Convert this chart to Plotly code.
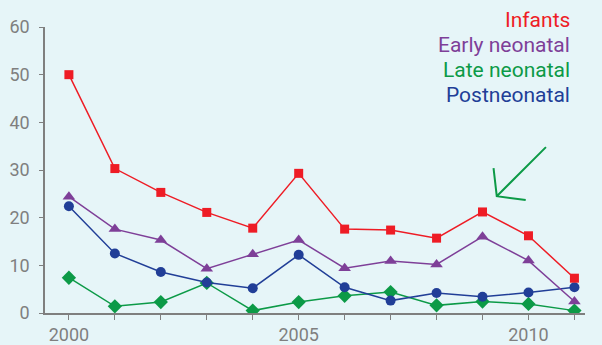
import plotly.graph_objects as go

years = list(range(2000, 2012))
infants = [50.0, 30.3, 25.3, 21.1, 17.8, 29.3, 17.6, 17.4, 15.7, 21.2, 16.2, 7.3]
early_neonatal = [24.4, 17.6, 15.3, 9.3, 12.3, 15.3, 9.4, 10.9, 10.2, 16.0, 11.0, 2.4]
late_neonatal = [7.4, 1.4, 2.3, 6.3, 0.5, 2.3, 3.6, 4.4, 1.6, 2.4, 1.9, 0.5]
postneonatal = [22.4, 12.5, 8.6, 6.4, 5.2, 12.2, 5.4, 2.6, 4.2, 3.4, 4.3, 5.4]
series_names = ["Infants", "Early neonatal", "Late neonatal", "Postneonatal"]
x_tick_vals = [2000, 2005, 2010]
y_tick_vals = [0, 10, 20, 30, 40, 50, 60]

RED = "#ee1c25"
PURPLE = "#7e3f98"
GREEN = "#0c9a47"
BLUE = "#213e97"
BG = "#e6f5f8"
GREY = "#7f7f7f"

fig = go.Figure()
specs = [
    (late_neonatal, "Late neonatal", GREEN, "diamond", 11),
    (postneonatal, "Postneonatal", BLUE, "circle", 10),
    (early_neonatal, "Early neonatal", PURPLE, "triangle-up", 11),
    (infants, "Infants", RED, "square", 9),
]
for vals, name, col, sym, sz in specs:
    fig.add_trace(go.Scatter(
        x=years, y=vals, name=name, mode="lines+markers",
        line=dict(color=col, width=1.5),
        marker=dict(symbol=sym, size=sz, color=col, line=dict(width=0)),
        showlegend=False,
    ))

W, H = 602, 345
L, R, T, B = 45, 17, 27, 32
pw, ph = W - L - R, H - T - B

legend_colors = [RED, PURPLE, GREEN, BLUE]
for i, (nm, col) in enumerate(zip(series_names, legend_colors)):
    px_x, px_y = 572, 20 + 25 * i
    fig.add_annotation(
        x=(px_x - L) / pw, y=1 - (px_y - T) / ph, xref="paper", yref="paper",
        text=nm, showarrow=False, xanchor="right", yanchor="middle",
        font=dict(color=col, size=21, family="Roboto"),
    )

# arrow (data coordinates)
arrow_path = "M 2010.38 34.8 L 2009.31 24.5 M 2009.24 30.4 L 2009.31 24.5 L 2009.94 23.7"
fig.add_shape(type="path", path=arrow_path, xref="x", yref="y",
              line=dict(color=GREEN, width=2))

fig.update_layout(
    width=W, height=H,
    margin=dict(l=L, r=R, t=T, b=B, pad=0, autoexpand=False),
    paper_bgcolor=BG, plot_bgcolor=BG,
    font=dict(family="Roboto", color=GREY, size=18),
)
fig.update_xaxes(
    range=[1999.48, 2011.23], showgrid=False, zeroline=False, automargin=False,
    showline=True, linecolor=GREY, linewidth=1.5,
    ticks="outside", ticklen=5, tickcolor=GREY, tickwidth=1,
    tickmode="array", tickvals=years,
    ticktext=[str(y) if y in x_tick_vals else "" for y in years],
)
fig.update_yaxes(
    range=[0, 60], showgrid=False, zeroline=False, automargin=False,
    showline=True, linecolor=GREY, linewidth=1.5,
    ticks="outside", ticklen=4, tickcolor=GREY, tickwidth=1,
    tickvals=y_tick_vals, ticklabelstandoff=6,
)

fig.write_html("out.html")
